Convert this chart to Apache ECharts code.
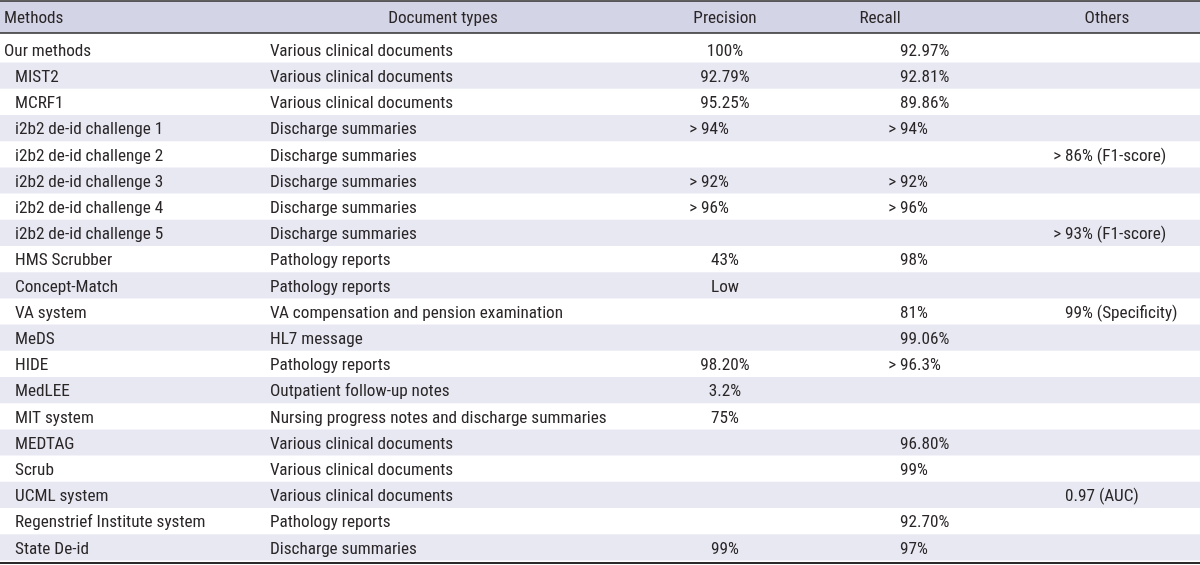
<!DOCTYPE html>
<html><head><meta charset="utf-8">
<script src="https://cdn.jsdelivr.net/npm/echarts@6/dist/echarts.min.js"></script>
<style>html,body{margin:0;padding:0;background:#fff}#c{width:1200px;height:565px}</style>
</head><body><div id="c"></div>
<script>
const headers = ["Methods", "Document types", "Precision", "Recall", "Others"];
const methods = ["Our methods", "MIST2", "MCRF1", "i2b2 de-id challenge 1", "i2b2 de-id challenge 2",
  "i2b2 de-id challenge 3", "i2b2 de-id challenge 4", "i2b2 de-id challenge 5", "HMS Scrubber",
  "Concept-Match", "VA system", "MeDS", "HIDE", "MedLEE", "MIT system", "MEDTAG", "Scrub",
  "UCML system", "Regenstrief Institute system", "State De-id"];
const docTypes = ["Various clinical documents", "Various clinical documents", "Various clinical documents",
  "Discharge summaries", "Discharge summaries", "Discharge summaries", "Discharge summaries",
  "Discharge summaries", "Pathology reports", "Pathology reports", "VA compensation and pension examination",
  "HL7 message", "Pathology reports", "Outpatient follow-up notes", "Nursing progress notes and discharge summaries",
  "Various clinical documents", "Various clinical documents", "Various clinical documents",
  "Pathology reports", "Discharge summaries"];
const precision = ["100%", "92.79%", "95.25%", "> 94%", "", "> 92%", "> 96%", "", "43%", "Low",
  "", "", "98.20%", "3.2%", "75%", "", "", "", "", "99%"];
const recall = ["92.97%", "92.81%", "89.86%", "> 94%", "", "> 92%", "> 96%", "", "98%", "",
  "81%", "99.06%", "> 96.3%", "", "", "96.80%", "99%", "", "92.70%", "97%"];
const others = ["", "", "", "", "> 86% (F1-score)", "", "", "> 93% (F1-score)", "", "",
  "99% (Specificity)", "", "", "", "", "", "", "0.97 (AUC)", "", ""];

const FONT_FAMILY = '"Liberation Sans Narrow", "Arial Narrow", "Roboto Condensed", Roboto, sans-serif';
const FONT = '17.2px ' + FONT_FAMILY;
const TEXT = '#2a2627';
const HEADER_BG = '#d4d4e7';
const STRIPE_BG = '#e8e8f3';
const TEXT_SHIFT = 0.08;

const rows = [-1].concat(methods.map((_, i) => i));

function txt(api, s, x, row, align) {
  const p = api.coord([x, row + TEXT_SHIFT]);
  return { type: 'text', z2: 10, style: { text: s, x: p[0], y: p[1], font: FONT, fill: TEXT,
    textAlign: align, textVerticalAlign: 'middle', align: align, verticalAlign: 'middle' } };
}
// value text with a hanging "> " prefix
function valTxt(api, s, x, row, mode) {
  const out = [];
  if (!s) return out;
  if (s.startsWith('> ')) {
    out.push(txt(api, '> ', x, row, 'right'));
    out.push(txt(api, s.slice(2), x, row, 'left'));
  } else if (mode === 'center') {
    out.push(txt(api, s, x + 24, row, 'center'));
  } else {
    out.push(txt(api, s, x, row, 'left'));
  }
  return out;
}
function rect(api, y0, y1, fill) {
  const a = api.coord([0, y0]), b = api.coord([1200, y1]);
  return { type: 'rect', shape: { x: a[0], y: a[1], width: b[0] - a[0], height: b[1] - a[1] }, style: { fill: fill } };
}
function hline(api, y, w) {
  const a = api.coord([0, y]), b = api.coord([1200, y]);
  return { type: 'line', z2: 20, shape: { x1: a[0], y1: a[1], x2: b[0], y2: b[1] }, style: { stroke: '#2b2b2b', lineWidth: w } };
}

function renderItem(params, api) {
  const r = api.value(0);
  const children = [];
  if (r < 0) {
    const c = -0.74;
    children.push(rect(api, -1.35, -0.13, HEADER_BG));
    children.push(hline(api, -1.35, 1.5));
    children.push(hline(api, -0.13, 1.5));
    children.push(hline(api, 20.1, 2));
    children.push(txt(api, headers[0], 4, c, 'left'));
    children.push(txt(api, headers[1], 443, c, 'center'));
    children.push(txt(api, headers[2], 725, c, 'center'));
    children.push(txt(api, headers[3], 880, c, 'center'));
    children.push(txt(api, headers[4], 1107, c, 'center'));
  } else {
    if (r % 2 === 1) children.push(rect(api, r, r + 1, STRIPE_BG));
    const c = r + 0.5;
    children.push(txt(api, methods[r], r === 0 ? 4 : 15, c, 'left'));
    children.push(txt(api, docTypes[r], 270, c, 'left'));
    children.push(...valTxt(api, precision[r], 701, c, 'center'));
    children.push(...valTxt(api, recall[r], 900, c, 'left'));
    children.push(...valTxt(api, others[r], 1065, c, 'left'));
  }
  return { type: 'group', children: children };
}

const chart = echarts.init(document.getElementById('c'), null, { renderer: 'canvas' });
chart.setOption({
  animation: false,
  backgroundColor: '#ffffff',
  grid: { left: 0, right: 0, top: 0, bottom: 0 },
  xAxis: { type: 'value', min: 0, max: 1200, show: false },
  yAxis: { type: 'value', min: -1.389, max: 20.176, inverse: true, show: false },
  series: [{
    type: 'custom',
    renderItem: renderItem,
    clip: false,
    encode: { x: -1, y: 0 },
    data: rows.map(r => [r])
  }]
});
</script></body></html>
